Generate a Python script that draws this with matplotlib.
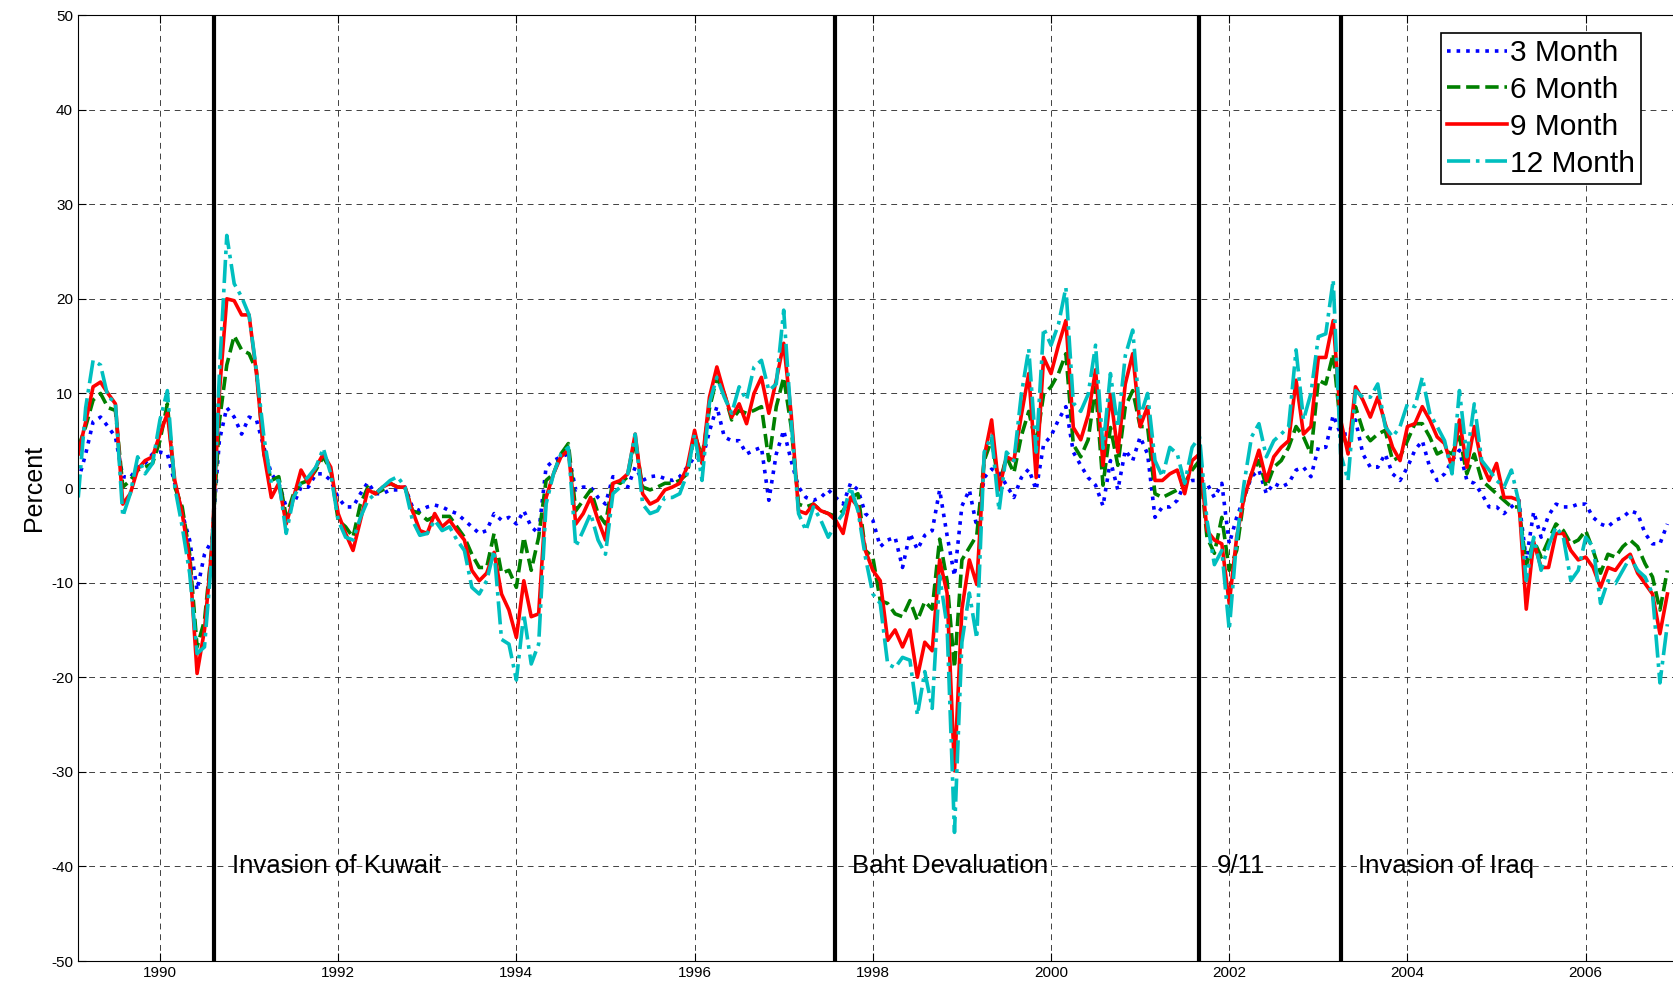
import numpy as np
from matplotlib import pyplot as plt

plt.rcParams['font.family'] = ['Liberation Sans', 'DejaVu Sans']
plt.rcParams['axes.unicode_minus'] = False

# monthly observations, first one Feb 1989
start_year = 1989
start_month = 2

m3 = [0.8, 3.6, 7.0, 7.5, 6.5, 5.4, 1.2, 1.1, 2.2, 2.6, 3.6, 3.8, 3.6, 0.5, -2.7, -5.5, -10.8, -7.0, -5.5, 5.0,
      8.5, 7.5, 5.7, 7.5, 7.2, 4.3, 1.5, 0.5, -2.0, -1.7, 0.1, 0.1, 1.5, 1.5, 0.8, -1.0, -2.0, -2.0, -0.6, 0.6,
      -0.6, -0.6, -0.2, -0.2, 0.1, -2.0, -2.4, -2.0, -1.8, -2.0, -2.4, -2.7, -3.4, -4.1, -4.8, -4.5, -2.7, -3.4, -3.1, -3.8,
      -2.4, -4.1, -4.8, 2.2, 2.9, 3.3, 3.6, -0.2, 0.1, 0.1, -1.0, -1.7, 1.2, 0.8, 0.1, 2.2, 0.8, 1.2, 1.3, 1.0,
      0.8, 1.2, 2.2, 3.3, 2.9, 6.0, 8.6, 5.4, 5.0, 5.0, 3.6, 4.0, 4.3, -1.3, 3.6, 6.1, 2.9, 0.1, -1.0, -1.3,
      -1.0, -0.2, -1.0, -1.7, 0.5, -0.2, -2.7, -3.4, -6.2, -5.5, -5.2, -8.4, -4.8, -6.5, -5.0, -4.5, -0.2, -5.0, -9.3, -1.9,
      -0.2, -4.1, 1.1, 2.0, 1.6, 0.3, -1.0, 1.1, 2.0, -0.2, 4.6, 5.5, 7.2, 8.6, 3.8, 2.4, 1.1, 0.3, -1.9, 2.9,
      -0.2, 4.0, 2.9, 5.4, 3.6, -3.1, -2.0, -2.0, -1.3, 0.5, 0.8, 0.8, 0.5, -1.0, 0.5, -5.9, -3.1, -1.0, 1.2, 1.9,
      -0.6, 0.5, 0.1, 0.5, 1.9, 2.2, 1.2, 4.3, 4.3, 7.7, 5.7, 5.7, 7.2, 3.6, 2.2, 2.2, 3.6, 1.5, 0.8, 2.2,
      4.0, 5.0, 2.2, 0.8, 1.5, 2.9, 4.0, 0.8, 0.5, -0.6, -2.0, -2.0, -2.7, -2.0, -1.3, -7.6, -2.5, -5.2, -2.9, -1.7,
      -2.0, -2.0, -1.7, -1.7, -3.1, -3.8, -4.1, -3.4, -3.1, -2.4, -2.7, -4.8, -5.9, -5.9, -3.8]

m6 = [4.3, 6.5, 9.3, 10.0, 8.5, 8.2, 0.1, 0.8, 1.9, 2.2, 2.6, 5.0, 8.9, 0.1, -2.0, -7.0, -16.8, -14.0, -6.2, 7.0,
      13.0, 16.1, 14.6, 14.2, 12.4, 3.6, 0.8, 1.2, -3.0, -0.6, 0.5, 0.8, 1.9, 3.3, 1.9, -3.4, -4.1, -5.2, -1.7, 0.1,
      -0.6, -0.2, 0.5, 0.1, 0.1, -2.4, -2.7, -3.4, -3.0, -3.0, -3.0, -4.1, -5.2, -7.0, -8.4, -8.4, -4.8, -9.0, -8.7, -10.5,
      -5.2, -8.7, -5.2, 0.8, 1.5, 3.6, 4.7, -2.4, -1.3, -0.2, -2.7, -3.8, 0.8, 0.5, 1.2, 5.0, 0.1, -0.2, 0.1, 0.5,
      0.5, 0.8, 1.5, 5.7, 3.3, 8.4, 11.7, 10.0, 7.2, 8.2, 7.9, 8.2, 8.6, 2.9, 8.6, 11.7, 6.5, -1.7, -2.0, -1.7,
      -2.4, -2.7, -3.0, -2.4, -1.0, -0.6, -6.6, -7.3, -11.9, -12.2, -13.3, -13.6, -11.9, -14.0, -12.0, -12.8, -5.4, -9.8, -19.0, -7.6,
      -6.3, -5.0, 2.9, 5.1, 0.3, 3.3, 1.6, 5.5, 8.1, 4.6, 9.9, 10.7, 12.1, 14.2, 4.6, 3.3, 5.1, 10.7, 0.3, 6.4,
      2.4, 8.6, 10.3, 6.5, 6.5, -0.6, -1.0, -0.6, -0.2, 0.5, 1.9, 2.9, -5.2, -6.9, -3.1, -8.7, -6.6, -1.0, 1.5, 2.9,
      0.1, 2.2, 2.9, 4.3, 6.5, 5.4, 3.6, 11.4, 11.0, 14.2, 6.5, 4.0, 8.6, 6.1, 5.0, 5.7, 6.1, 2.9, 3.3, 5.0,
      6.8, 6.8, 5.4, 3.6, 4.0, 3.6, 5.4, 1.5, 3.6, 0.8, 0.1, -0.6, -1.3, -2.0, -2.0, -8.2, -5.5, -7.3, -5.5, -3.8,
      -4.5, -5.9, -5.5, -4.5, -6.6, -9.0, -7.0, -7.3, -6.2, -5.5, -6.2, -8.0, -9.4, -12.9, -8.7]

m9 = [3.6, 7.0, 10.7, 11.2, 10.0, 8.9, -1.7, -0.6, 2.0, 2.9, 3.3, 5.7, 7.9, 0.8, -2.7, -7.6, -19.6, -15.0, -6.2, 10.0,
      20.0, 19.8, 18.3, 18.3, 12.1, 3.6, -1.0, 0.5, -3.8, -1.0, 1.9, 0.5, 2.2, 3.6, 2.2, -2.7, -4.8, -6.6, -3.4, -0.2,
      -0.6, 0.1, 0.5, 0.1, 0.1, -2.4, -4.5, -4.8, -2.7, -4.1, -3.4, -4.5, -5.5, -8.7, -9.8, -9.0, -6.8, -11.2, -12.9, -15.8,
      -9.8, -13.6, -13.3, -1.0, 1.5, 3.3, 4.0, -3.8, -2.7, -1.0, -3.4, -5.5, 0.5, 0.8, 1.5, 5.7, -0.6, -1.7, -1.3, -0.2,
      0.1, 0.5, 2.2, 6.1, 2.6, 9.6, 12.8, 10.0, 7.5, 8.9, 6.8, 10.0, 11.7, 7.9, 11.4, 15.3, 7.9, -2.4, -2.7, -1.7,
      -2.4, -2.7, -3.4, -4.8, -1.0, -2.0, -6.6, -8.7, -9.8, -16.1, -15.0, -16.8, -15.0, -20.0, -16.3, -17.2, -7.6, -11.1, -29.9, -12.8,
      -7.6, -10.2, 3.3, 7.2, -0.2, 3.3, 2.9, 7.7, 12.1, 1.1, 13.8, 12.1, 15.1, 17.7, 6.4, 5.1, 7.7, 12.5, 2.4, 9.9,
      3.8, 11.0, 14.2, 6.5, 8.6, 0.8, 0.8, 1.5, 1.9, -0.6, 2.9, 3.6, -4.5, -5.5, -5.9, -12.2, -5.2, -1.0, 1.5, 4.0,
      0.8, 3.3, 4.3, 5.0, 11.4, 5.7, 6.5, 13.8, 13.8, 17.7, 7.2, 3.6, 10.7, 9.3, 7.5, 9.6, 6.8, 4.3, 2.9, 6.5,
      6.8, 8.6, 7.2, 5.4, 4.7, 2.2, 7.2, 2.2, 6.5, 2.6, 0.8, 2.6, -1.0, -1.0, -1.3, -12.8, -5.7, -8.4, -8.4, -4.8,
      -4.8, -6.6, -7.6, -7.3, -8.4, -10.5, -8.4, -8.7, -7.6, -7.0, -9.0, -10.1, -11.2, -15.4, -11.2]

m12 = [-1.0, 8.5, 13.5, 13.0, 9.6, 9.1, -3.0, -0.6, 3.3, 1.5, 2.6, 7.2, 10.3, 0.1, -4.1, -9.0, -17.5, -16.8, -7.0, 12.0,
       26.7, 21.6, 20.2, 18.3, 12.4, 5.4, 0.5, 0.8, -4.8, -1.0, 0.5, 1.2, 2.2, 4.2, 1.5, -3.4, -5.2, -5.5, -3.1, -1.3,
       -0.6, 0.1, 0.8, 1.2, 0.1, -3.4, -5.0, -4.8, -3.4, -4.5, -4.1, -5.5, -6.6, -10.5, -11.2, -9.8, -6.6, -16.0, -16.5, -20.3,
       -13.3, -18.6, -16.5, -1.7, 1.5, 3.6, 4.3, -6.2, -4.5, -2.7, -5.5, -7.0, -0.6, 0.1, 1.5, 5.7, -1.7, -2.7, -2.4, -1.0,
       -1.0, -0.6, 1.5, 5.7, 0.8, 9.0, 11.7, 9.6, 7.9, 10.7, 9.3, 12.8, 13.5, 10.3, 11.0, 18.8, 7.2, -2.7, -4.5, -2.0,
       -3.4, -5.2, -3.8, -2.7, 0.1, -2.4, -7.3, -11.2, -12.2, -18.6, -19.0, -17.9, -18.2, -24.0, -19.4, -23.3, -9.3, -14.6, -36.4, -16.3,
       -11.1, -15.9, 3.8, 5.5, -2.4, 3.8, 2.9, 9.9, 14.7, 3.8, 16.9, 15.1, 17.3, 21.2, 9.0, 8.1, 9.9, 15.1, 4.2, 12.1,
       6.4, 14.0, 16.7, 7.5, 10.0, 2.9, 1.2, 4.3, 3.6, 0.5, 4.3, 5.4, -3.4, -8.1, -6.6, -15.0, -5.5, 0.5, 5.4, 6.8,
       3.3, 5.0, 5.7, 6.5, 14.6, 7.2, 10.0, 16.0, 16.3, 22.0, 3.6, 0.8, 10.3, 9.6, 9.6, 11.0, 6.5, 5.4, 6.5, 8.9,
       8.6, 11.7, 7.9, 6.5, 5.0, 1.5, 10.3, 3.3, 8.9, 2.9, 1.9, 0.8, 0.1, 1.9, -1.5, -9.8, -5.2, -8.7, -6.1, -4.1,
       -5.2, -9.8, -8.7, -5.2, -6.2, -12.2, -9.8, -10.1, -8.7, -7.3, -8.7, -9.4, -11.2, -20.6, -14.4]

events = ['Invasion of Kuwait', 'Baht Devaluation', '9/11', 'Invasion of Iraq']
event_dates = [1990.61, 1997.58, 2001.66, 2003.25]
label_dates = [1990.81, 1997.77, 2001.86, 2003.44]

t = start_year + (start_month - 1 + np.arange(len(m3))) / 12.0

fig = plt.figure(figsize=(16.73, 9.88), dpi=100)
ax = fig.add_axes([0.0466, 0.0273, 0.9534, 0.9575])

ax.plot(t, m3, color='#0000ff', linestyle=':', linewidth=2.6, label='3 Month')
ax.plot(t, m6, color='#008000', linestyle='--', linewidth=2.6, label='6 Month')
ax.plot(t, m9, color='#ff0000', linestyle='-', linewidth=2.6, label='9 Month')
ax.plot(t, m12, color='#00bfbf', linestyle='-.', linewidth=2.6, label='12 Month')

for d, lab, ld in zip(event_dates, events, label_dates):
    ax.axvline(d, color='black', linewidth=3)
    ax.text(ld, -40, lab, fontsize=18.5, ha='left', va='center')

ax.set_xlim(1989.08, 2006.98)
ax.set_ylim(-50, 50)
ax.set_xticks(np.arange(1990, 2007, 2))
ax.set_yticks(np.arange(-50, 51, 10))
ax.grid(True, color='black', linestyle=(0, (6, 5)), linewidth=0.7, alpha=0.75)
ax.tick_params(axis='both', direction='in', length=6, labelsize=11, top=True)
ax.spines['right'].set_visible(False)
ax.set_ylabel('Percent', fontsize=18, labelpad=4)

leg = ax.legend(loc='upper right', bbox_to_anchor=(0.980, 0.981), fontsize=21.5,
                frameon=True, fancybox=False, edgecolor='black', framealpha=1,
                handlelength=2.0, handletextpad=0.12, labelspacing=0.3, borderpad=0.2,
                borderaxespad=0)
leg.get_frame().set_linewidth(1.2)

plt.savefig('out.png', dpi=100)
